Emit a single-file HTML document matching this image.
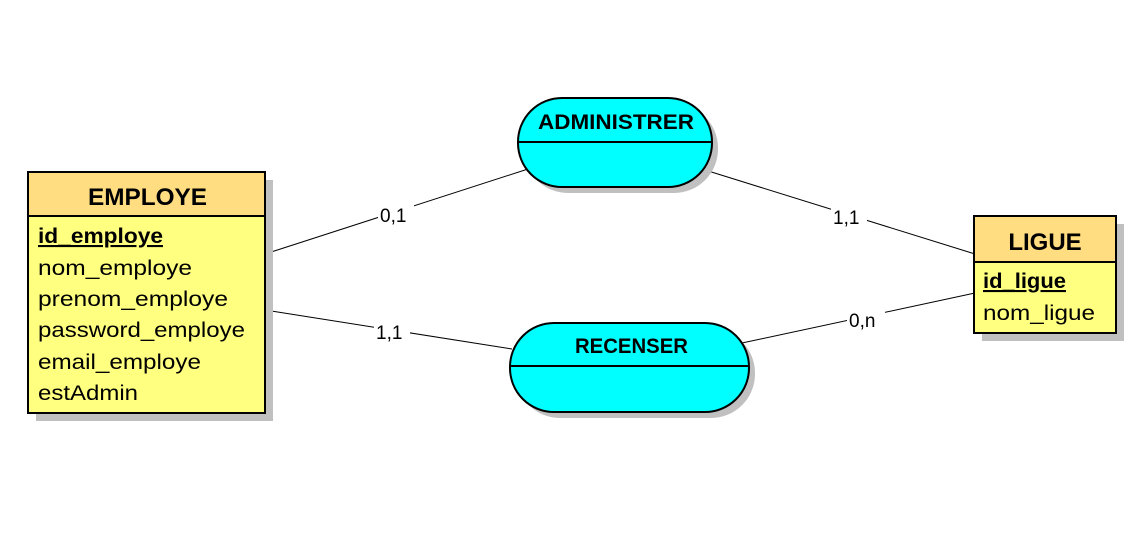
<!DOCTYPE html>
<html><head><meta charset="utf-8"><style>
html,body{margin:0;padding:0;background:#fff;}
svg{display:block;}
text{font-family:"Liberation Sans",sans-serif;}
</style></head><body>
<svg width="1148" height="558" xmlns="http://www.w3.org/2000/svg">
<g stroke="#000" stroke-width="1">
<line x1="265" y1="254" x2="528" y2="169"/>
<line x1="705" y1="170" x2="975" y2="254"/>
<line x1="265" y1="310" x2="512" y2="349"/>
<line x1="742" y1="343" x2="975" y2="293"/>
</g>
<g font-size="19" fill="#000">
<rect x="378" y="203" width="36" height="24" fill="#fff"/><text x="380" y="222">0,1</text>
<rect x="831" y="205" width="36" height="24" fill="#fff"/><text x="833" y="224">1,1</text>
<rect x="374" y="320" width="36" height="24" fill="#fff"/><text x="376" y="339">1,1</text>
<rect x="847" y="308" width="38" height="24" fill="#fff"/><text x="849" y="327">0,n</text>
</g>
<rect x="36" y="180" width="237" height="241" fill="#c0c0c0"/>
<rect x="982" y="224" width="142" height="117" fill="#c0c0c0"/>
<rect x="524" y="104" width="194" height="89" rx="44" fill="#c0c0c0"/>
<rect x="516" y="329" width="239" height="89" rx="44" fill="#c0c0c0"/>
<rect x="28" y="172" width="237" height="241" fill="#ffff80" stroke="#000" stroke-width="2"/>
<rect x="29" y="173" width="235" height="43" fill="#ffdd80"/>
<line x1="28" y1="216" x2="265" y2="216" stroke="#000" stroke-width="2"/>
<text x="88" y="205" font-size="24" font-weight="bold" textLength="119" lengthAdjust="spacingAndGlyphs">EMPLOYE</text>
<g font-size="21">
<text x="38" y="243" font-weight="bold" text-decoration="underline" textLength="125" lengthAdjust="spacingAndGlyphs">id_employe</text>
<text x="38" y="275" textLength="154" lengthAdjust="spacingAndGlyphs">nom_employe</text>
<text x="38" y="306" textLength="190" lengthAdjust="spacingAndGlyphs">prenom_employe</text>
<text x="38" y="337" textLength="207" lengthAdjust="spacingAndGlyphs">password_employe</text>
<text x="38" y="369" textLength="163" lengthAdjust="spacingAndGlyphs">email_employe</text>
<text x="38" y="400" textLength="100" lengthAdjust="spacingAndGlyphs">estAdmin</text>
</g>
<rect x="974" y="216" width="142" height="117" fill="#ffff80" stroke="#000" stroke-width="2"/>
<rect x="975" y="217" width="140" height="45" fill="#ffdd80"/>
<line x1="974" y1="262" x2="1116" y2="262" stroke="#000" stroke-width="2"/>
<text x="1045" y="250" font-size="24" font-weight="bold" text-anchor="middle">LIGUE</text>
<g font-size="21">
<text x="983" y="288" font-weight="bold" text-decoration="underline" textLength="83" lengthAdjust="spacingAndGlyphs">id_ligue</text>
<text x="983" y="320" textLength="112" lengthAdjust="spacingAndGlyphs">nom_ligue</text>
</g>
<rect x="518" y="98" width="194" height="89" rx="44" fill="#00ffff" stroke="#000" stroke-width="2"/>
<line x1="518" y1="142" x2="712" y2="142" stroke="#000" stroke-width="2"/>
<text x="538" y="129" font-size="21" font-weight="bold" textLength="156" lengthAdjust="spacingAndGlyphs">ADMINISTRER</text>
<rect x="510" y="323" width="239" height="89" rx="44" fill="#00ffff" stroke="#000" stroke-width="2"/>
<line x1="510" y1="366" x2="749" y2="366" stroke="#000" stroke-width="2"/>
<text x="575" y="353" font-size="21" font-weight="bold" textLength="113" lengthAdjust="spacingAndGlyphs">RECENSER</text>
</svg>
</body></html>
